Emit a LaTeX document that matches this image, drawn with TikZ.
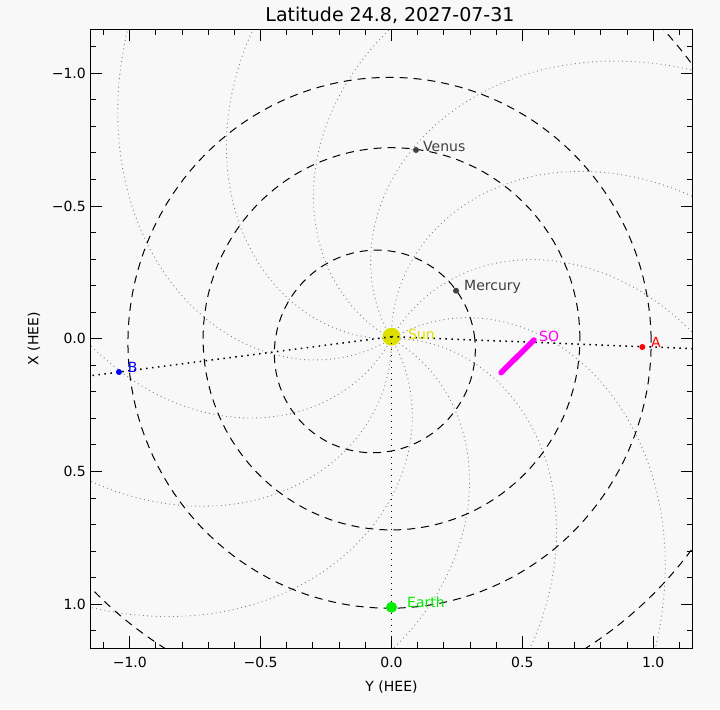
\documentclass[tikz,border=0pt]{standalone}
\usepackage{fontspec}
\setmainfont{DejaVu Sans}

\definecolor{bgcol}{RGB}{248,248,248}
\definecolor{sunyellow}{RGB}{224,224,0}
\definecolor{earthgreen}{RGB}{0,238,0}
\definecolor{planetgray}{RGB}{64,64,64}
\definecolor{spiralgray}{RGB}{128,128,128}
\definecolor{somagenta}{RGB}{255,0,255}
\definecolor{stared}{RGB}{255,0,0}
\definecolor{stbblue}{RGB}{0,0,255}

\begin{document}
\begin{tikzpicture}[x=261.7pt, y=265.5pt]
    % Define styles
    \tikzstyle{orbit} = [black, line width=1pt, dash pattern=on 8pt off 6pt]
    \tikzstyle{spiral} = [spiralgray, line width=0.9pt, dash pattern=on 0.9pt off 3.4pt]
    \tikzstyle{sightline} = [black, line width=1.5pt, dash pattern=on 1.5pt off 4.5pt]
    \tikzstyle{body} = [circle, inner sep=0pt]
    \tikzstyle{lbl} = [anchor=west, inner sep=0pt, text height=10pt, text depth=0pt, font=\fontsize{14}{16}\selectfont]
    \tikzstyle{ticklbl} = [inner sep=0pt, font=\fontsize{14}{16}\selectfont]

    % Background
    \fill[bgcol] (-1.4960,-1.3944) rectangle (1.2553,1.2761);
    \useasboundingbox (-1.4960,-1.3944) rectangle (1.2553,1.2761);

    \begin{scope}
        \clip (-1.152,-1.1657) rectangle (1.152,1.1657);
        % Parker spirals
        \foreach \p in {1,31,...,331}
            \draw[spiral] plot[domain=0:1.7, samples=90, variable=\rr]
                ({\rr*cos(\p-52*\rr)}, {\rr*sin(\p-52*\rr)});
        % Planet orbits
        \draw[orbit] plot[domain=0:360, samples=120, variable=\t]
            ({0.3706/(1+0.2056*cos(\t-36.8))*cos(\t)}, {0.3706/(1+0.2056*cos(\t-36.8))*sin(\t)}) -- cycle;
        \draw[orbit] plot[domain=0:360, samples=120, variable=\t]
            ({0.72*cos(\t)}, {0.72*sin(\t)}) -- cycle;
        \draw[orbit] plot[domain=0:360, samples=160, variable=\t]
            ({0.9997/(1+0.0167*cos(\t-63.4))*cos(\t)}, {0.9997/(1+0.0167*cos(\t-63.4))*sin(\t)}) -- cycle;
        \draw[orbit] plot[domain=0:360, samples=200, variable=\t]
            ({1.5107/(1+0.0934*cos(\t+62))*cos(\t)}, {1.5107/(1+0.0934*cos(\t+62))*sin(\t)}) -- cycle;
    \end{scope}

    % Frame and ticks
    \draw[line width=1pt] (-1.152,-1.1657) rectangle (1.152,1.1657);
    \foreach \t in {-1.1,-1.0,...,1.15} {
        \draw[line width=1pt] (\t,-1.1657) -- ++(0,6pt);
        \draw[line width=1pt] (\t,1.1657) -- ++(0,-6pt);
        \draw[line width=1pt] (-1.152,\t) -- ++(6pt,0);
        \draw[line width=1pt] (1.152,\t) -- ++(-6pt,0);
    }
    \foreach \t in {-1,-0.5,0,0.5,1} {
        \draw[line width=1pt] (\t,-1.1657) -- ++(0,12pt);
        \draw[line width=1pt] (\t,1.1657) -- ++(0,-12pt);
        \draw[line width=1pt] (-1.152,\t) -- ++(12pt,0);
        \draw[line width=1pt] (1.152,\t) -- ++(-12pt,0);
    }

    % Tick labels
    \foreach \t/\txt [count=\i] in {-1/−1.0, -0.5/−0.5, 0/0.0, 0.5/0.5, 1/1.0}
        \node[ticklbl] (ylab\i) at (\t,-1.2173) {\txt};
    \foreach \t/\txt [count=\i] in {1/−1.0, 0.5/−0.5, 0/0.0, -0.5/0.5, -1/1.0}
        \node[ticklbl, anchor=east] (xlab\i) at (-1.1674,\t) {\txt};

    % Axis titles
    \node[ticklbl] (ytitle) at (0,-1.3115) {Y (HEE)};
    \node[ticklbl, rotate=90] (xtitle) at (-1.366,0) {X (HEE)};
    \node[inner sep=0pt, font=\fontsize{19}{22}\selectfont] (title) at (-0.0057,1.2196) {Latitude 24.8, 2027-07-31};

    % Sun
    \node[body, fill=sunyellow, minimum size=18pt] (sun) at (0,0.008) {};

    % Lines of sight to the edge
    \coordinate (aEdge) at (1.152,-0.0372);
    \coordinate (bEdge) at (-1.152,-0.1393);
    \coordinate (earthEdge) at (0,-1.1657);
    \draw[sightline] (sun.center) -- (aEdge);
    \draw[sightline] (sun.center) -- (bEdge);
    \draw[sightline] (sun.center) -- (earthEdge);

    % Spacecraft and planets
    \node[body, fill=earthgreen, minimum size=11pt] (earth) at (0,-1.0113) {};
    \node[body, fill=planetgray, minimum size=6pt] (venus) at (0.0936,0.7111) {};
    \node[body, fill=planetgray, minimum size=6pt] (mercury) at (0.2465,0.1812) {};
    \node[body, fill=stared, minimum size=6pt] (stA) at (0.9584,-0.0309) {};
    \node[body, fill=stbblue, minimum size=6pt] (stB) at (-1.0413,-0.125) {};
    \coordinate (soStart) at (0.4187,-0.1277);
    \coordinate (soEnd) at (0.5445,-0.0045);
    \draw[somagenta, line width=5.5pt, line cap=round] (soStart) -- (soEnd);

    % Labels
    \node[lbl, text=sunyellow] (sunlbl) at (0.063,0.018) {Sun};
    \node[lbl, text=earthgreen] (earthlbl) at (0.0592,-0.995) {Earth};
    \node[lbl, text=planetgray] (venuslbl) at (0.1204,0.726) {Venus};
    \node[lbl, text=planetgray] (mercurylbl) at (0.277,0.199) {Mercury};
    \node[lbl, text=stared] (albl) at (0.9916,-0.014) {A};
    \node[lbl, text=stbblue] (blbl) at (-1.008,-0.1088) {B};
    \node[lbl, text=somagenta] (solbl) at (0.5636,0.008) {SO};

\end{tikzpicture}
\end{document}
